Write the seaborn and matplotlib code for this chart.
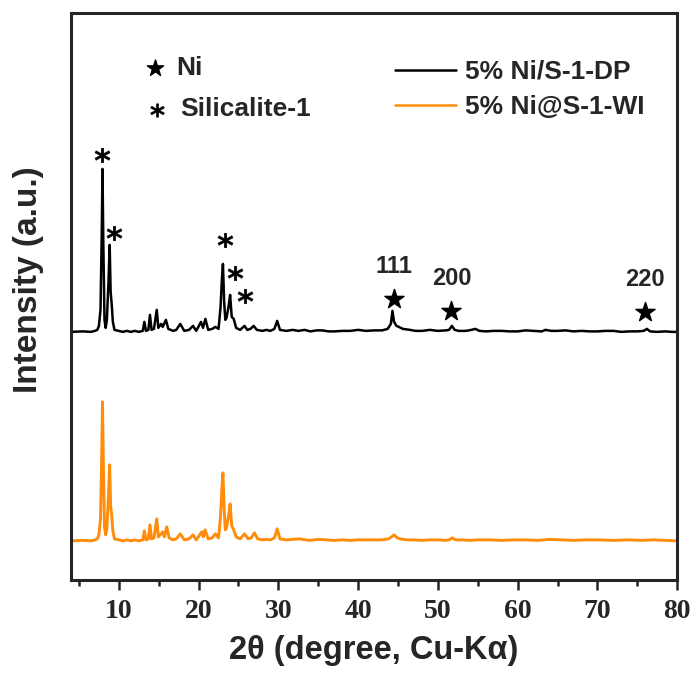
"""
XRD patterns of 5% Ni/S-1-DP and 5% Ni@S-1-WI.
"""

import numpy as np
import pandas as pd
import matplotlib
matplotlib.use("Agg")
import matplotlib.pyplot as plt
import seaborn as sns

# 2-theta positions (degree) and relative intensities
two_theta_dp = [4.0, 5.5, 6.5, 7.0, 7.3, 7.5, 7.7, 7.85, 7.95, 8.05, 8.2, 8.35, 8.5, 8.7, 8.85,
                8.97, 9.1, 9.25, 9.45, 10.0, 10.5, 11.0, 11.5, 12.0, 12.5, 13.0, 13.2, 13.4,
                13.7, 13.9, 14.1, 14.4, 14.75, 14.95, 15.3, 15.5, 15.9, 16.2, 16.8, 17.2,
                17.7, 18.2, 18.8, 19.3, 19.7, 20.3, 20.55, 20.85, 21.2, 21.7, 22.1, 22.5,
                22.75, 22.9, 23.05, 23.2, 23.35, 23.5, 23.75, 23.95, 24.15, 24.4, 24.7, 25.2,
                25.75, 26.1, 26.5, 26.9, 27.3, 28.0, 28.5, 29.0, 29.5, 29.85, 30.2, 31.0,
                31.8, 32.5, 33.3, 34.0, 34.8, 35.5, 36.3, 37.0, 38.0, 39.0, 40.0, 41.0,
                42.0, 43.0, 43.7, 44.1, 44.3, 44.5, 44.8, 45.1, 45.6, 46.5, 47.2, 48.0,
                49.0, 50.0, 51.0, 51.4, 51.75, 52.1, 52.6, 53.5, 54.2, 54.7, 55.2, 56.0,
                57.0, 58.0, 59.0, 60.0, 61.0, 62.0, 63.0, 63.5, 64.2, 65.0, 66.0, 67.0,
                68.0, 69.0, 70.0, 71.0, 72.0, 73.0, 74.0, 75.0, 75.8, 76.2, 76.6, 77.5,
                78.5, 79.3, 80.0]
intensity_dp = [0, 0.5, 0, 1, 2, 6, 22, 95, 163, 90, 12, 4, 12, 50, 87,
                40, 28, 10, 2, 1, 0, 1, 0, 1, 0, 1, 10, 1,
                2, 17, 2, 3, 22, 4, 8, 5, 12, 3, 1, 2,
                8, 1, 2, 6, 1, 10, 4, 13, 2, 3, 5, 3,
                25, 50, 68, 30, 12, 14, 25, 37, 15, 13, 4, 2,
                6, 2, 3, 6, 2, 1, 2, 1, 3, 11, 2, 1,
                2, 1, 2, 0.5, 1.5, 1.5, 0.5, 0.5, 1, 1, 2, 1,
                1.5, 1.5, 3, 8, 21, 10, 6, 5, 3, 2, 1, 1,
                2, 1, 1.5, 2, 6, 2, 1, 1, 2, 3, 1, 0.5,
                1, 1, 0.5, 0.5, 1.5, 1, 0.5, 2, 1, 1, 1.5, 0.5,
                1, 0.5, 0.5, 1, 1, 0, 0.5, 0.5, 1, 3, 0.5, 0,
                0.5, 0, 0]

two_theta_wi = [4.0, 5.5, 6.5, 7.0, 7.3, 7.5, 7.7, 7.85, 7.95, 8.05, 8.2, 8.35, 8.5, 8.7, 8.85,
                8.97, 9.1, 9.25, 9.45, 10.0, 10.5, 11.0, 11.5, 12.0, 12.5, 13.0, 13.2, 13.4,
                13.7, 13.9, 14.1, 14.4, 14.75, 14.95, 15.3, 15.5, 15.7, 16.0, 16.3, 16.8,
                17.2, 17.7, 18.2, 18.8, 19.3, 19.7, 20.4, 20.6, 20.8, 21.2, 21.7, 22.1, 22.5,
                22.75, 22.9, 23.05, 23.2, 23.35, 23.5, 23.75, 23.95, 24.15, 24.35, 24.7,
                25.2, 25.75, 26.2, 26.6, 27.0, 27.4, 28.0, 28.5, 29.0, 29.5, 29.85, 30.2,
                31.0, 31.8, 32.6, 33.4, 34.0, 35.0, 36.0, 37.0, 38.0, 39.0, 40.0, 41.5,
                43.0, 43.8, 44.2, 44.5, 44.9, 45.3, 46.0, 47.0, 48.0, 49.0, 50.0, 51.0,
                51.4, 51.8, 52.2, 53.0, 54.0, 55.0, 56.5, 58.0, 59.5, 61.0, 62.5, 64.0,
                65.5, 67.0, 68.5, 70.0, 72.0, 74.0, 75.5, 77.0, 78.5, 80.0]
intensity_wi = [0, 0.5, 0, 1, 2, 6, 22, 85, 139, 80, 14, 6, 12, 45, 76,
                35, 26, 10, 2, 1, 0, 1, 0, 1, 0, 1, 10, 1,
                2, 16, 2, 3, 22, 4, 7, 9, 4, 14, 3, 1,
                2, 7, 1, 2, 6, 1, 9, 4, 11, 2, 3, 7, 3,
                25, 50, 68, 32, 11, 13, 25, 37, 15, 12, 4,
                2, 7, 2, 3, 8, 2, 1, 1.5, 1, 3, 12, 2,
                1, 1.5, 2, 1, 0.5, 1.5, 1, 0.5, 1, 0.5, 1, 1,
                1, 2, 4, 6, 3, 2, 1, 1, 0.5, 1, 1, 0.5,
                1, 3, 1, 1, 0.5, 1, 1, 0.5, 1, 1, 0.5, 1.5,
                1, 0.5, 1, 1, 0.5, 1, 0.5, 1, 0.5, 0]

# vertical offsets used for stacking the two patterns
offset_dp = 248
offset_wi = 39

labels = ["5% Ni/S-1-DP", "5% Ni@S-1-WI"]
colors = ["black", "#ff8c0a"]

# reflection markers
silicalite_x = [7.95, 9.4, 23.25, 24.6, 25.8]
silicalite_y = [425, 347, 340, 307, 284]
ni_x = [44.5, 51.7, 76.0]
ni_y = [281, 269, 268]
ni_hkl = ["111", "200", "220"]

df = pd.concat([
    pd.DataFrame({"two_theta": two_theta_dp,
                  "intensity": np.array(intensity_dp) + offset_dp,
                  "sample": labels[0]}),
    pd.DataFrame({"two_theta": two_theta_wi,
                  "intensity": np.array(intensity_wi) + offset_wi,
                  "sample": labels[1]}),
])

sns.set_style("ticks")
plt.rcParams["font.family"] = ["Liberation Sans", "DejaVu Sans"]
plt.rcParams["font.weight"] = "bold"

fig = plt.figure(figsize=(6.96, 6.79), dpi=100)
ax = fig.add_axes([0.102, 0.146, 0.871, 0.835])

sns.lineplot(data=df, x="two_theta", y="intensity", hue="sample",
             palette=dict(zip(labels, colors)), sort=False, estimator=None,
             linewidth=1.8, ax=ax)
for line, lw in zip(ax.lines, [1.8, 2.1]):
    line.set_linewidth(lw)
    line.set_solid_joinstyle("round")

# Silicalite-1 and Ni reflection markers
ax.scatter(silicalite_x, silicalite_y, marker="$*$", s=120, color="black",
           linewidths=0.3, zorder=5)
ax.scatter(ni_x, ni_y, marker="*", s=210, color="black", zorder=5)
for x, y, t in zip(ni_x, ni_y, ni_hkl):
    ax.text(x, y + 21, t, ha="center", va="bottom", fontsize=17, fontweight="bold")

# symbol key
ax.scatter([0.139], [0.903], marker="*", s=150, color="black", transform=ax.transAxes,
           clip_on=False)
ax.text(0.173, 0.903, "Ni", transform=ax.transAxes, ha="left", va="center",
        fontsize=19, fontweight="bold")
ax.scatter([0.142], [0.829], marker="$*$", s=100, color="black", linewidths=0.3,
           transform=ax.transAxes, clip_on=False)
ax.text(0.180, 0.831, "Silicalite-1", transform=ax.transAxes, ha="left", va="center",
        fontsize=19, fontweight="bold")

leg = ax.legend(loc="upper left", bbox_to_anchor=(0.535, 0.917), frameon=False,
                fontsize=19, handlelength=2.3, handletextpad=0.35, labelspacing=0.42,
                borderaxespad=0, borderpad=0, title=None)
for t in leg.get_texts():
    t.set_fontweight("bold")

ax.set_xlim(4, 80)
ax.set_ylim(0, 567)
ax.set_xticks(range(10, 81, 10))
ax.set_xticks(range(5, 81, 10), minor=True)
ax.set_yticks([])
ax.tick_params(axis="x", which="major", direction="out", length=7, width=1.8, pad=7)
ax.tick_params(axis="x", which="minor", direction="out", length=4, width=1.8)
for lab in ax.get_xticklabels():
    lab.set_fontfamily("Liberation Serif")
    lab.set_fontweight("bold")
    lab.set_fontsize(20)
for s in ax.spines.values():
    s.set_linewidth(2.2)
    s.set_visible(True)

ax.set_xlabel("2θ (degree, Cu-Kα)", fontsize=23.5, fontweight="bold", labelpad=8)
ax.set_ylabel("Intensity (a.u.)", fontsize=24, fontweight="bold")
ax.yaxis.set_label_coords(-0.045, 0.53)

fig.savefig("out.png", dpi=100)
